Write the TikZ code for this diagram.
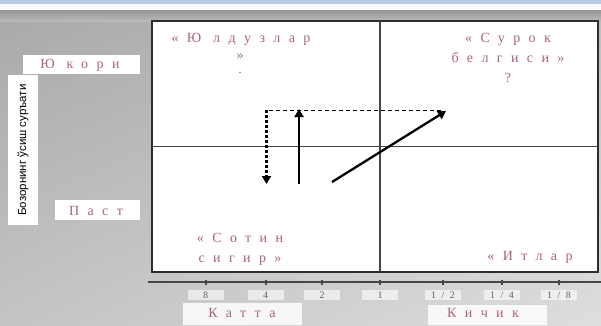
\documentclass[tikz,border=0pt]{standalone}
\usepackage{fontspec}
\setmainfont{Liberation Serif}
\newfontfamily\spacedfont[LetterSpace=60]{Liberation Serif}
\newfontfamily\tickfont[LetterSpace=30]{Liberation Serif}
\newfontfamily\sidefont{Liberation Sans}
\usetikzlibrary{arrows.meta,shadings}
\definecolor{lbl}{RGB}{170,100,120}
\definecolor{tickc}{RGB}{100,100,100}
\definecolor{topblue}{RGB}{184,204,228}
\definecolor{framec}{RGB}{45,45,45}
\definecolor{divc}{RGB}{70,70,70}
\definecolor{bgul}{RGB}{168,168,168}
\definecolor{bgur}{RGB}{190,190,190}
\definecolor{bgll}{RGB}{196,196,196}
\definecolor{bglr}{RGB}{222,222,222}
\definecolor{bandt}{RGB}{150,150,150}
\definecolor{bandb}{RGB}{185,185,185}
\begin{document}
\begin{tikzpicture}[x=1pt,y=-1pt,
  lab/.style={font=\spacedfont\fontsize{14}{20}\selectfont, text=lbl, inner sep=0pt, align=center},
  whitebox/.style={fill=white, inner sep=0pt},
  ticklab/.style={font=\tickfont\fontsize{10}{12}\selectfont, text=tickc, fill=white, fill opacity=0.6, text opacity=1, inner sep=2pt, minimum width=36pt},
  tickmark/.style={line width=1.6pt, draw=divc},
  bigarrow/.style={line width=2.3pt, -{Triangle[length=8pt,width=9pt]}}
]
\useasboundingbox (0,0) rectangle (601,325);
% background
\shade[upper left=bgul, upper right=bgur, lower left=bgll, lower right=bglr]
  (0,0) rectangle (601,325);
\fill[topblue] (0,0) rectangle (601,4);
\fill[white!92!topblue] (0,4) rectangle (601,10);
\shade[top color=bandt, bottom color=bandb] (0,10) rectangle (601,21);

% main matrix
\coordinate (tl) at (152,21);
\coordinate (br) at (598,272);
\fill[white] (tl) rectangle (br);
\coordinate (vtop) at (380,21);
\coordinate (vbot) at (380,272);
\coordinate (hl) at (152,146.5);
\coordinate (hr) at (598,146.5);
\draw[divc, line width=1.1pt] (vtop) -- (vbot);
\draw[divc, line width=1.1pt] (hl) -- (hr);
\draw[framec, line width=1.6pt] (tl) rectangle (br);

% axis
\coordinate (axl) at (148,282);
\coordinate (axr) at (601,282);
\draw[divc, line width=1.1pt] (axl) -- (axr);
\foreach \xx/\tl/\nn in {205.7/{8}/a, 265.7/{4}/b, 322/{2}/c, 380/{1}/d, 443/{1 / 2}/e, 502/{1 / 4}/f, 559/{1 / 8}/g} {
  \draw[tickmark] (\xx,280) -- (\xx,285);
  \node[ticklab] (tick\nn) at (\xx,295) {\tl};
}

% quadrant labels
\node[lab] (stars) at (241,39) {«Ю лдузлар};
\node[lab] (starsb) at (240,57) {»};
\node[lab] (starsc) at (240,73) {.};
\node[lab] (qmark) at (508,58) {«Сурок\\белгиси»\\?};
\node[lab] (cows) at (240,249) {«Сотин\\сигир»};
\node[lab] (dogs) at (530,257) {«Итлар};

% side labels
\node[whitebox, minimum width=117pt, minimum height=19pt] (high) at (81.5,64.5) {};
\node[lab] (hightxt) at (80,65) {Ю кори};
\node[whitebox, minimum width=85pt, minimum height=20pt] (low) at (97.5,210) {};
\node[lab] (lowtxt) at (96,210.5) {Паст};
\node[whitebox, minimum width=150pt, minimum height=30pt, rotate=90] (growth) at (23,150) {};
\node[rotate=90, inner sep=0pt, font=\sidefont\fontsize{11.5}{12}\selectfont] (growthtxt) at (23,150) {Бозорнинг ўсиш суръати};

% bottom labels
\node[whitebox, fill opacity=0.85, minimum width=119pt, minimum height=22pt] (bigbox) at (242.5,314) {};
\node[lab] (big) at (242,313) {Катта};
\node[whitebox, fill opacity=0.85, minimum width=119pt, minimum height=20pt] (smallbox) at (487.5,315) {};
\node[lab] (small) at (483,313) {Кичик};

% arrows
\coordinate (dA) at (266.5,110);
\coordinate (dB) at (266.5,184);
\coordinate (dC) at (441,110);
\draw[black, line width=0.9pt, dash pattern=on 4pt off 3pt] (dC) -- (dA);
\draw[black, line width=2.2pt, dash pattern=on 3pt off 2pt, -{Triangle[length=8pt,width=9pt]}] (dA) -- (dB);
\coordinate (uA) at (299,184);
\coordinate (uB) at (299,109);
\draw[bigarrow] (uA) -- (uB);
\coordinate (gA) at (332,182);
\coordinate (gB) at (446,111);
\draw[bigarrow] (gA) -- (gB);
\end{tikzpicture}
\end{document}
